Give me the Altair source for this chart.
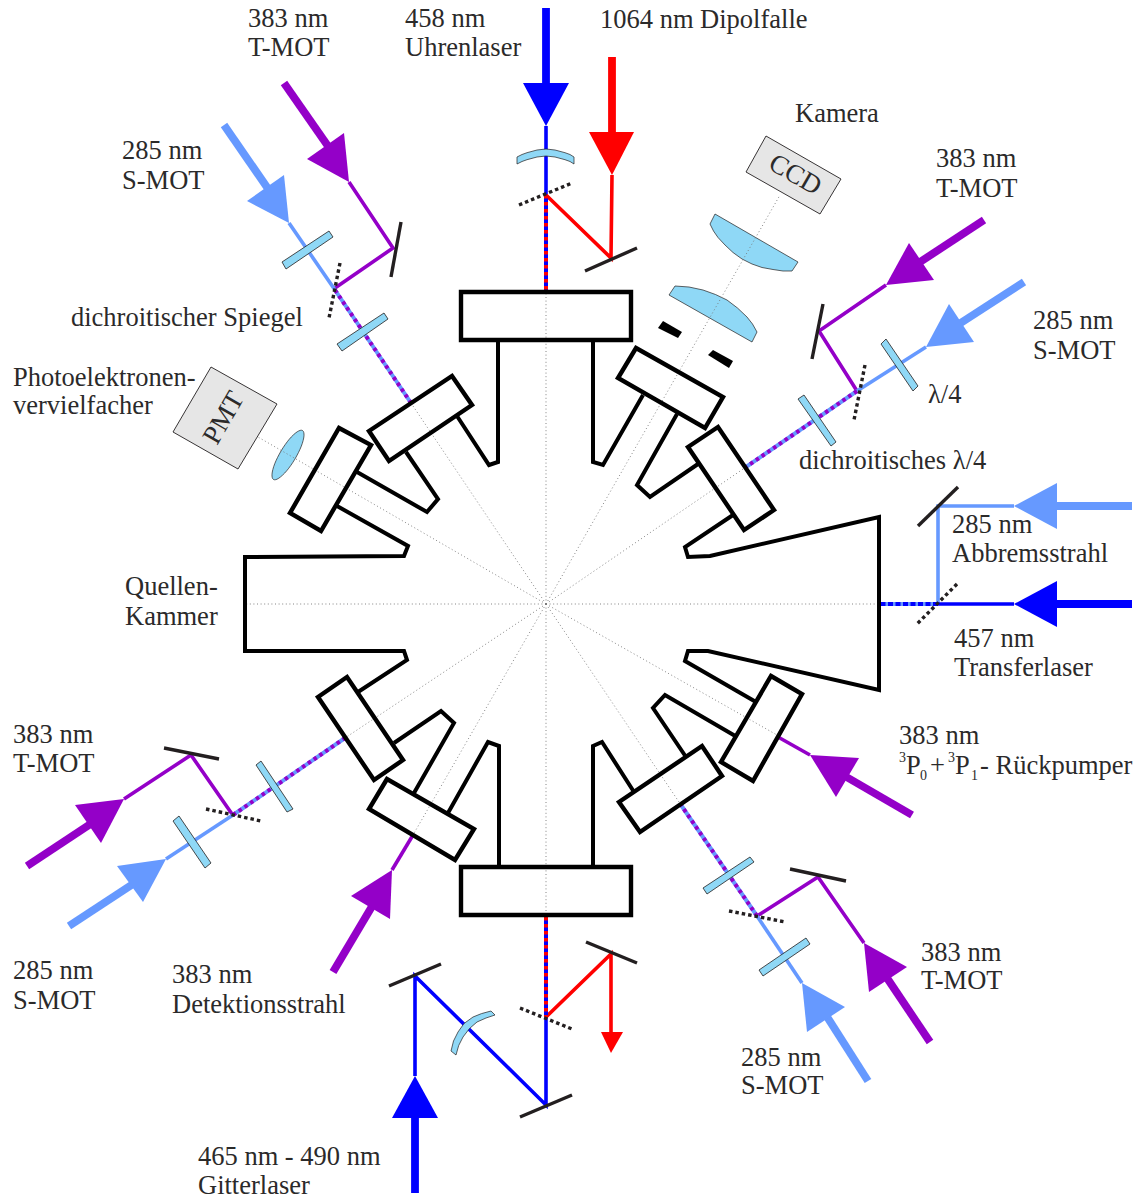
import altair as alt
import pandas as pd

PURPLE = "#9400c8"
LIGHT = "#6699ff"
BLUE = "#0000ff"
RED = "#ff0000"
LENS = "#8fd8f6"
GREY = "#e6e6e6"
INK = "#231f20"
TEXT = "#2b2a2a"
FONT = "Liberation Serif"

CENTER = (546, 604)
spoke_ends = [(546, 292), (546, 915), (245, 604), (880, 604), (258, 437), (780, 195),
              (411, 403), (746, 467), (345, 738), (777, 735), (681, 805), (413, 835)]

# chamber outline
chamber = [[(498, 341), (498, 462), (489, 465), (457, 416)],
           [(406, 452), (438, 499), (427, 512), (357, 472)],
           [(337, 506), (408, 546), (404, 556), (245, 557), (245, 651), (404, 651), (407, 660), (358, 692)],
           [(394, 743), (441, 711), (454, 723), (414, 793)],
           [(448, 813), (488, 742), (499, 746), (499, 866)],
           [(593, 866), (593, 746), (602, 742), (634, 792)],
           [(686, 757), (653, 708), (665, 695), (737, 737)],
           [(756, 702), (685, 661), (688, 651), (708, 651), (879, 690), (879, 517), (710, 556), (688, 557), (685, 547), (733, 515)],
           [(698, 464), (650, 497), (637, 485), (677, 414)],
           [(643, 395), (603, 465), (593, 462), (593, 341)]]
flanges = [[(461, 292), (631, 292), (631, 340), (461, 340)],
           [(461, 867), (631, 867), (631, 915), (461, 915)],
           [(452, 376), (472, 405), (389, 461), (369, 431)],
           [(339, 428), (371, 445), (321, 531), (290, 513)],
           [(347, 677), (318, 697), (374, 780), (403, 760)],
           [(387, 779), (369, 809), (455, 860), (474, 829)],
           [(702, 746), (619, 802), (640, 832), (722, 776)],
           [(771, 676), (802, 694), (753, 781), (721, 762)],
           [(718, 427), (688, 447), (744, 530), (774, 510)],
           [(636, 348), (723, 397), (705, 428), (618, 378)]]
slits = [[(658, 328), (663, 321), (682, 332), (678, 338)],
         [(708, 355), (713, 350), (733, 361), (729, 368)]]

# thick incoming beams
thick = {
    PURPLE: [[(284, 83), (330, 149)], [(984, 220), (917, 264)], [(912, 815), (843, 775)],
             [(930, 1042), (885, 975)], [(27, 866), (92, 823)], [(333, 972), (374, 903)]],
    LIGHT: [[(224, 125), (273, 196)], [(1024, 282), (956, 326)], [(1132, 506), (1050, 506)],
            [(868, 1081), (824, 1012)], [(69, 926), (136, 882)]],
    BLUE: [[(546, 8), (546, 90)], [(1132, 604), (1050, 604)], [(415, 1193), (415, 1112)]],
    RED: [[(612, 57), (612, 140)]],
}
# arrow heads
heads = {
    PURPLE: [[(344, 133), (307, 159), (349, 182)], [(909, 243), (934, 280), (886, 285)],
             [(859, 758), (836, 797), (810, 755)], [(864, 943), (907, 967), (869, 992)],
             [(75, 805), (101, 843), (124, 799)], [(392, 870), (390, 919), (351, 896)]],
    LIGHT: [[(284, 175), (247, 201), (289, 223)], [(949, 304), (974, 342), (926, 347)],
            [(1057, 483), (1057, 529), (1014, 506)], [(802, 983), (845, 1007), (807, 1032)],
            [(117, 866), (143, 902), (166, 859)]],
    BLUE: [[(523, 83), (569, 83), (546, 126)], [(1057, 581), (1057, 627), (1014, 604)],
           [(392, 1118), (438, 1118), (415, 1076)]],
    RED: [[(589, 132), (634, 132), (612, 175)], [(601, 1032), (623, 1032), (611, 1053)]],
}
# thin beams
thin = {
    PURPLE: [[(349, 182), (393, 248), (335, 288)], [(886, 285), (819, 331), (857, 391)],
             [(810, 755), (778, 737)], [(864, 943), (818, 877), (757, 916)],
             [(124, 799), (191, 755), (232, 814)], [(392, 870), (413, 835)]],
    LIGHT: [[(289, 223), (335, 290)], [(926, 347), (857, 391)], [(1014, 506), (938, 506), (938, 604)],
            [(802, 983), (757, 916)], [(166, 859), (233, 815)]],
    BLUE: [[(546, 126), (546, 195)], [(1014, 604), (938, 604)],
           [(546, 1017), (546, 1105), (415, 976), (415, 1076)]],
    RED: [[(612, 175), (611, 258), (546, 195)], [(546, 1017), (611, 954), (611, 1032)]],
}
# overlapped beams: base colour, dash colour
mixed_violet = [[(335, 290), (411, 403)], [(857, 391), (746, 467)], [(757, 916), (681, 805)], [(233, 815), (345, 738)]]
mixed_clock = [[(546, 195), (546, 290)], [(546, 917), (546, 1017)]]
mixed_transfer = [[(938, 604), (881, 604)]]

mirrors = [[(401, 222), (391, 277)], [(585, 271), (637, 248)], [(823, 304), (812, 359)],
           [(958, 487), (918, 526)], [(164, 748), (219, 759)], [(790, 869), (846, 881)],
           [(586, 942), (637, 963)], [(520, 1117), (572, 1095)], [(389, 986), (441, 964)]]
dichroics = [[(340, 263), (329, 318)], [(519, 205), (572, 183)], [(865, 365), (854, 420)],
             [(957, 584), (917, 624)], [(206, 809), (261, 821)], [(729, 911), (785, 922)],
             [(520, 1008), (572, 1029)]]

plates = [[(329, 231), (333, 237), (286, 269), (282, 262)],
          [(384, 313), (388, 319), (342, 351), (337, 344)],
          [(881, 344), (886, 339), (918, 386), (913, 391)],
          [(798, 399), (804, 395), (836, 442), (831, 446)],
          [(750, 857), (754, 862), (707, 894), (703, 888)],
          [(806, 938), (810, 944), (763, 976), (759, 970)],
          [(256, 765), (261, 761), (293, 809), (287, 812)],
          [(173, 821), (179, 816), (211, 863), (205, 868)]]
lenses = [[(517, 157), (522, 154.5), (527, 152.7), (537, 150), (546, 149), (555, 150), (565, 152.7), (570, 154.5), (574, 157),
           (574, 164), (570, 161.5), (565, 159.7), (555, 157), (546, 156), (537, 157), (527, 159.7), (522, 161.5), (517, 164)],
          [(715, 214), (798, 262), (792, 271), (783, 271), (773, 269.5), (762, 267.5), (752, 264), (742, 259),
           (733, 252.5), (725, 245), (718, 237.5), (713.5, 231), (710, 224)],
          [(675, 286), (689, 287), (703, 290), (715.5, 294.5), (727, 300), (737.5, 308), (747, 317), (752.5, 324),
           (757, 332), (752, 342), (669, 295)],
          [(491, 1011), (495, 1015), (486, 1018), (477, 1022), (469.5, 1028.5), (463, 1037), (458.7, 1045.5), (456, 1055),
           (451, 1051), (453.5, 1041), (458, 1032), (464, 1023.5), (473, 1017), (481.5, 1013.6)]]
pmt_lens = [[(302.5, 430.5), (304, 435.8), (301.3, 446.2), (294.9, 459.1), (286.7, 470.8), (278.8, 478.2),
             (273.5, 479.5), (272, 474.2), (274.7, 463.8), (281.1, 450.9), (289.3, 439.2), (297.2, 431.8)]]
detectors = [[(766, 136), (841, 179), (820, 214), (746, 172)],
             [(211, 367), (277, 404), (238, 469), (173, 432)]]

labels = [("383 nm", 248, 27), ("T-MOT", 248, 56), ("285 nm", 122, 159), ("S-MOT", 122, 189),
          ("458 nm", 405, 27), ("Uhrenlaser", 405, 56), ("1064 nm Dipolfalle", 600, 28),
          ("Kamera", 795, 122), ("383 nm", 936, 167), ("T-MOT", 936, 197),
          ("285 nm", 1033, 329), ("S-MOT", 1033, 359), ("λ/4", 928, 403),
          ("dichroitisches λ/4", 799, 469), ("dichroitischer Spiegel", 71, 326),
          ("Photoelektronen-", 13, 386), ("vervielfacher", 13, 414),
          ("Quellen-", 125, 595), ("Kammer", 125, 625),
          ("285 nm", 952, 533), ("Abbremsstrahl", 952, 562),
          ("457 nm", 954, 647), ("Transferlaser", 954, 676),
          ("383 nm", 899, 744), ("P", 906, 774), ("+", 930, 774), ("P", 955, 774), ("- Rückpumper", 980, 774),
          ("383 nm", 13, 743), ("T-MOT", 13, 772), ("285 nm", 13, 979), ("S-MOT", 13, 1009),
          ("383 nm", 172, 983), ("Detektionsstrahl", 172, 1013),
          ("465 nm - 490 nm", 198, 1165), ("Gitterlaser", 198, 1194),
          ("285 nm", 741, 1066), ("S-MOT", 741, 1094), ("383 nm", 921, 961), ("T-MOT", 921, 989)]
small_labels = [("3", 899, 762), ("0", 920, 780), ("3", 948, 762), ("1", 971, 780)]
rotated_labels = [("CCD", 795, 175, 30), ("PMT", 224, 418, 300)]

X = alt.X("x:Q", axis=None, scale=alt.Scale(domain=[8, 1133], nice=False, zero=False))
Y = alt.Y("y:Q", axis=None, scale=alt.Scale(domain=[1198, 8], nice=False, zero=False))


def table(paths):
    return pd.DataFrame([{"id": k, "i": i, "x": p[0], "y": p[1]}
                         for k, path in enumerate(paths) for i, p in enumerate(path)])


def lines(paths, color, width, dash=None, cap="butt"):
    opts = dict(color=color, strokeWidth=width, strokeCap=cap, strokeJoin="miter", clip=False)
    if dash:
        opts["strokeDash"] = dash
    return alt.Chart(table(paths)).mark_line(**opts).encode(x=X, y=Y, detail="id:N", order="i:Q")


def shapes(paths, fill, stroke=None, width=0, interp="linear-closed"):
    opts = dict(interpolate=interp, fill=fill, strokeWidth=width, strokeJoin="miter", filled=False)
    opts["stroke"] = stroke if stroke else fill
    return alt.Chart(table(paths)).mark_line(**opts).encode(x=X, y=Y, detail="id:N", order="i:Q")


def words(rows, size):
    df = pd.DataFrame(rows, columns=["t", "x", "y"])
    return alt.Chart(df).mark_text(font=FONT, fontSize=size, align="left", baseline="alphabetic",
                                   color=TEXT).encode(x=X, y=Y, text="t:N")


layers = []
for c, p in thick.items():
    layers.append(lines(p, c, 7.8))
for c, p in thin.items():
    layers.append(lines(p, c, 3.6))
for c, p in heads.items():
    layers.append(shapes(p, c))
layers += [lines(mixed_violet, LIGHT, 4), lines(mixed_violet, PURPLE, 4, [3.5, 3.5]),
           lines(mixed_clock, BLUE, 4), lines(mixed_clock, RED, 4, [3.5, 3.5]),
           lines(mixed_transfer, LIGHT, 4), lines(mixed_transfer, BLUE, 4, [5, 2.5])]
layers += [lines(mirrors, INK, 3.4), lines(dichroics, INK, 3.4, [3.5, 3])]
layers += [shapes(plates, LENS, INK, 0.8), shapes(lenses, LENS, INK, 0.7),
           shapes(pmt_lens, LENS, INK, 0.7, "cardinal-closed"), shapes(detectors, GREY, INK, 0.9)]
layers.append(lines([[CENTER, e] for e in spoke_ends], "#777777", 0.9, [1, 2.6]))
layers += [lines(chamber, "#000000", 4), shapes(flanges, "transparent", "#000000", 4.4), shapes(slits, "#000000")]
layers += [words(labels, 26.5), words(small_labels, 14)]
rot = pd.DataFrame(rotated_labels, columns=["t", "x", "y", "a"])
for row in rot.itertuples():
    layers.append(alt.Chart(rot[rot.t == row.t]).mark_text(
        font=FONT, fontSize=27, align="center", baseline="middle", color=TEXT, angle=row.a
    ).encode(x=X, y=Y, text="t:N"))

chart = alt.layer(*layers).properties(
    width=1125, height=1190, padding=0, autosize=alt.AutoSizeParams(type="none")
).configure_view(stroke=None)
chart.save("out.html", embed_options={"renderer": "svg", "actions": False})
